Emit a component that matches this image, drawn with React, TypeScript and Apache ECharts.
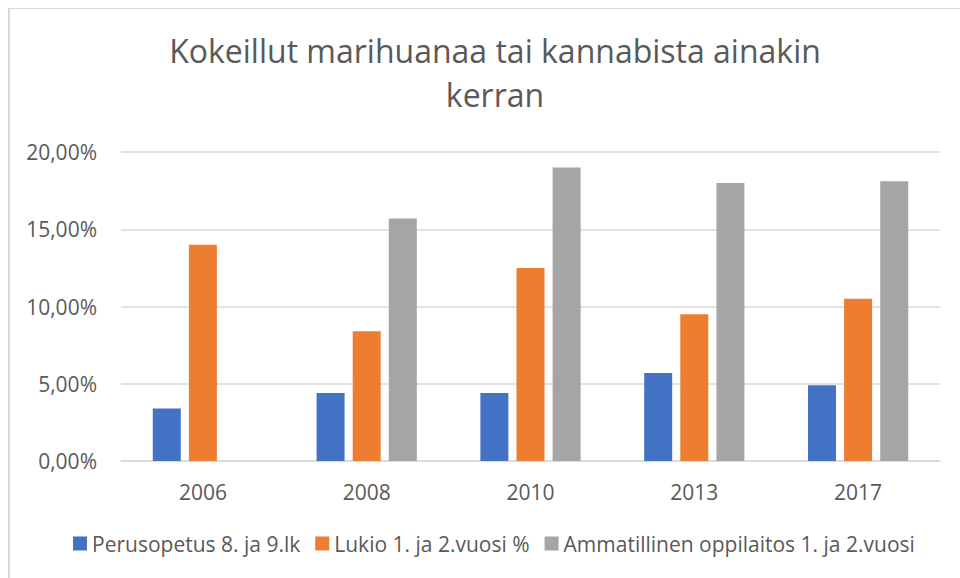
import React, { useEffect, useRef } from "react";
import * as echarts from "echarts";

const categories = ["2006", "2008", "2010", "2013", "2017"];
const perusopetus = [3.4, 4.4, 4.4, 5.7, 4.9];
const lukio = [14.0, 8.4, 12.5, 9.5, 10.5];
const ammatillinen: (number | null)[] = [null, 15.7, 19.0, 18.0, 18.1];
const seriesNames = [
  "Perusopetus 8. ja 9.lk",
  "Lukio 1. ja 2.vuosi %",
  "Ammatillinen oppilaitos 1. ja 2.vuosi",
];
const titleText = "Kokeillut marihuanaa tai kannabista ainakin\nkerran";

const FONT = "'Open Sans', sans-serif";
const TEXT = "#595959";

export default function App() {
  const ref = useRef<HTMLDivElement>(null);
  useEffect(() => {
    if (!ref.current) return;
    const chart = echarts.init(ref.current, null, { renderer: "svg" });
    const mk = (name: string, data: (number | null)[], color: string) => ({
      name,
      type: "bar",
      data: data.map((v) => (v === null ? "-" : v)),
      barWidth: 28,
      barGap: "29%",
      itemStyle: { color },
      emphasis: { disabled: true },
    });
    chart.setOption({
      animation: false,
      backgroundColor: "#fff",
      title: {
        text: titleText,
        left: 490,
        top: 23,
        textAlign: "center",
        textStyle: {
          fontFamily: FONT,
          fontSize: 32,
          fontWeight: "normal",
          color: TEXT,
          lineHeight: 44,
        },
      },
      graphic: [
        {
          type: "line",
          shape: { x1: 9, y1: 8.5, x2: 960, y2: 8.5 },
          style: { stroke: "#D9D9D9", lineWidth: 1 },
        },
        {
          type: "line",
          shape: { x1: 9, y1: 8, x2: 9, y2: 578 },
          style: { stroke: "#D9D9D9", lineWidth: 2 },
        },
      ],
      legend: {
        data: seriesNames,
        top: 533,
        left: 73,
        width: 880,
        padding: 0,
        itemWidth: 14,
        itemHeight: 14,
        itemGap: 15,
        icon: "rect",
        textStyle: { fontFamily: FONT, fontSize: 21, color: TEXT },
      },
      grid: { left: 121, right: 20, top: 152, bottom: 117 },
      xAxis: {
        type: "category",
        data: categories,
        axisLine: { lineStyle: { color: "#D9D9D9", width: 1.5 } },
        axisTick: { show: false },
        axisLabel: { fontFamily: FONT, fontSize: 21, color: TEXT, margin: 20 },
      },
      yAxis: {
        type: "value",
        min: 0,
        max: 20,
        interval: 5,
        axisLine: { show: false },
        axisTick: { show: false },
        splitLine: { lineStyle: { color: "#D9D9D9", width: 1.5 } },
        axisLabel: {
          fontFamily: FONT,
          fontSize: 21,
          color: TEXT,
          margin: 24,
          formatter: (v: number) => v.toFixed(2).replace(".", ",") + "%",
        },
      },
      series: [
        mk(seriesNames[0], perusopetus, "#4472C4"),
        mk(seriesNames[1], lukio, "#ED7D31"),
        mk(seriesNames[2], ammatillinen, "#A5A5A5"),
      ],
    });
    return () => chart.dispose();
  }, []);
  return (
    <div
      ref={ref}
      style={{ position: "absolute", left: 0, top: 0, width: 960, height: 578 }}
    />
  );
}
